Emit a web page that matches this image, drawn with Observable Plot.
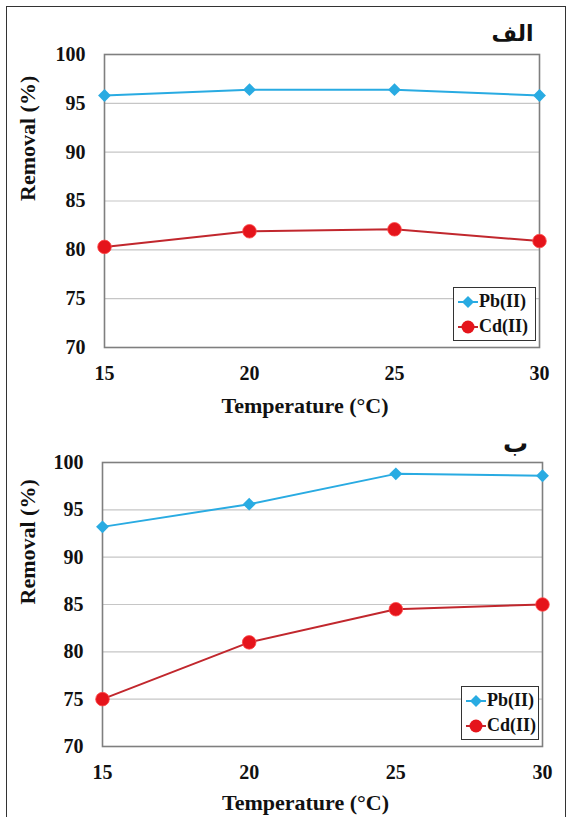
<!DOCTYPE html>
<html>
<head>
<meta charset="utf-8">
<script src="https://cdn.jsdelivr.net/npm/d3@7"></script>
<script src="https://cdn.jsdelivr.net/npm/@observablehq/plot@0.6"></script>
<style>
  body { margin: 0; background: #fff; }
  #wrap { position: relative; width: 567px; height: 817px; overflow: hidden; font-family: "Liberation Serif", "Times New Roman", Tinos, "DejaVu Serif", serif; }
  #frame { position: absolute; left: 6px; top: 6px; width: 560px; height: 840px; border: 1.5px solid #333; box-sizing: border-box; }
  .panel { position: absolute; left: 0; }
  .legend { position: absolute; border: 1.5px solid #333; background: #fff; box-sizing: border-box; font-weight: bold; font-size: 18px; font-family: "Liberation Serif", "Times New Roman", Tinos, "DejaVu Serif", serif; color: #111; padding-top: 1px; }
  .legend .row { display: flex; align-items: center; height: 25px; }
  .legend svg { display: block; margin-left: 4px; margin-right: 1px; }
</style>
</head>
<body>
<div id="wrap">
  <div id="frame"></div>
</div>
<script>
// ---- data ----
const temperatures = [15, 20, 25, 30];
const pbA = [95.8, 96.4, 96.4, 95.8];
const cdA = [80.3, 81.9, 82.1, 80.9];
const pbB = [93.2, 95.6, 98.8, 98.6];
const cdB = [75.0, 81.0, 84.5, 85.0];
const yTicks = [70, 75, 80, 85, 90, 95, 100];
const gridValues = [75, 80, 85, 90, 95];
const xTicks = [15, 20, 25, 30];
const seriesNames = ["Pb(II)", "Cd(II)"];
const panelLabels = ["الف", "ب"];
const xTitle = "Temperature (°C)";
const yTitle = "Removal (%)";

const pbColor = "#29abe2";
const cdLine = "#c1272d";
const cdDot = "#e5141b";
const serif = '"Liberation Serif", "Times New Roman", Tinos, "DejaVu Serif", serif';

function rows(values) {
  return temperatures.map((t, i) => ({t, v: values[i]}));
}

function panel(pb, cd, label, cfg) {
  const pbData = rows(pb), cdData = rows(cd);
  return Plot.plot({
    width: 567,
    height: cfg.height,
    marginLeft: cfg.ml, marginRight: cfg.mr, marginTop: cfg.mt, marginBottom: cfg.mb,
    style: {fontFamily: serif, color: "#111", background: "transparent", overflow: "visible"},
    x: {domain: [15, 30]},
    y: {domain: [70, 100]},
    marks: [
      Plot.gridY(gridValues, {stroke: "#c6c6c6", strokeOpacity: 1, strokeWidth: 1.2}),
      Plot.frame({stroke: "#7f7f7f", strokeWidth: 1.6}),
      Plot.axisY(yTicks, {tickSize: 0, tickPadding: 19, fontSize: 20, fontWeight: "bold", fontFamily: serif, label: null}),
      Plot.axisX(xTicks, {tickSize: 0, tickPadding: 18, fontSize: 20, fontWeight: "bold", fontFamily: serif, label: null}),
      Plot.line(pbData, {x: "t", y: "v", stroke: pbColor, strokeWidth: 2}),
      Plot.dot(pbData, {x: "t", y: "v", symbol: "diamond2", r: 5.8, fill: pbColor, stroke: "none"}),
      Plot.line(cdData, {x: "t", y: "v", stroke: cdLine, strokeWidth: 2}),
      Plot.dot(cdData, {x: "t", y: "v", r: 6.8, fill: cdDot, stroke: "#ff4a4a", strokeWidth: 0.8}),
      Plot.text([xTitle], {text: d => d, frameAnchor: "bottom", dx: cfg.xtDx, dy: cfg.xtDy, fontSize: 22, fontWeight: "bold", fontFamily: serif, lineAnchor: "middle", fill: "#111"}),
      Plot.text([yTitle], {text: d => d, frameAnchor: "left", dx: cfg.ytDx, rotate: -90, fontSize: 22, fontWeight: "bold", fontFamily: serif, lineAnchor: "middle", fill: "#111"}),
      Plot.text([label], {text: d => d, frameAnchor: "top-right", dx: cfg.lDx, dy: cfg.lDy, fontSize: cfg.lSize, fontWeight: "bold", fontFamily: "DejaVu Sans, sans-serif", textAnchor: "middle", lineAnchor: "middle", fill: "#111"})
    ]
  });
}

function legend(left, top, width, height) {
  const div = document.createElement("div");
  div.className = "legend";
  Object.assign(div.style, {left: left + "px", top: top + "px", width: width + "px", height: height + "px"});
  seriesNames.forEach((name, i) => {
    const row = document.createElement("div");
    row.className = "row";
    const isPb = i === 0;
    const line = isPb ? pbColor : cdLine;
    const marker = isPb
      ? `<path d="M10 5 L16 11 L10 17 L4 11 Z" fill="${pbColor}"/>`
      : `<circle cx="10" cy="11" r="6.5" fill="${cdDot}"/>`;
    row.innerHTML = `<svg width="20" height="22" viewBox="0 0 20 22"><line x1="0" y1="11" x2="20" y2="11" stroke="${line}" stroke-width="2"/>${marker}</svg><span>${name}</span>`;
    div.appendChild(row);
  });
  return div;
}

const wrap = document.getElementById("wrap");

const top1 = panel(pbA, cdA, panelLabels[0], {height: 420, ml: 104, mr: 28, mt: 54, mb: 73, xtDx: -17, xtDy: 58, ytDx: -77, lDx: -27, lDy: -21, lSize: 22});
top1.classList.add("panel");
top1.style.top = "0px";
wrap.appendChild(top1);

const bot = panel(pbB, cdB, panelLabels[1], {height: 397, ml: 102, mr: 25, mt: 42, mb: 71, xtDx: -17, xtDy: 56, ytDx: -75, lDx: -27, lDy: -19, lSize: 25});
bot.classList.add("panel");
bot.style.top = "420px";
wrap.appendChild(bot);

wrap.appendChild(legend(453, 287, 83, 54));
wrap.appendChild(legend(461, 686, 78, 54));
</script>
</body>
</html>
